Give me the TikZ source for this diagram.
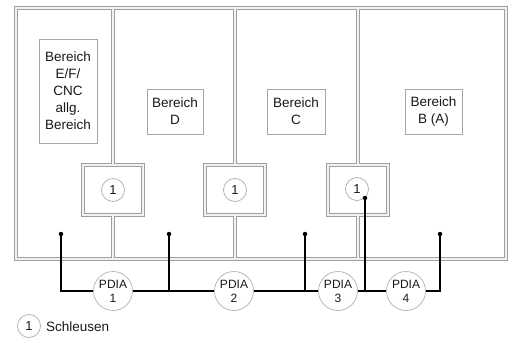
\documentclass[tikz,border=0pt]{standalone}
\usepackage{fontspec}
\setmainfont{Liberation Sans}
\begin{document}
\begin{tikzpicture}[x=1pt,y=-1pt,
  wallout/.style={draw=gray!75,line width=3.8pt},
  wallin/.style={draw=gray!10,line width=1.1pt},
  label/.style={draw=gray!70,line width=0.7pt,fill=white,align=center,inner sep=0pt,
    font=\fontsize{13.5}{17}\selectfont,text=black!90},
  lock/.style={circle,draw=gray!65,line width=0.7pt,fill=white,minimum size=23pt,inner sep=0pt,
    font=\fontsize{13}{15}\selectfont,text=black!90},
  pdia/.style={circle,draw=gray!60,line width=0.7pt,fill=white,minimum size=39pt,inner sep=0pt,
    align=center,font=\fontsize{12}{14}\selectfont,text=black!90},
  dot/.style={circle,fill=black,minimum size=4.5pt,inner sep=0pt},
  bus/.style={draw=black,line width=1.7pt}]
\useasboundingbox (0,0) rectangle (517,338);
% walls, two passes for merged double lines
\foreach \s in {wallout,wallin}{
  \draw[\s] (16,8) rectangle (506,259);
  \draw[\s] (113,8) -- (113,165) (113,215) -- (113,259);
  \draw[\s] (235,8) -- (235,165) (235,215) -- (235,259);
  \draw[\s] (358,8) -- (358,165) (358,215) -- (358,259);
  \draw[\s] (83,165) rectangle (143,215);
  \draw[\s] (205,165) rectangle (265,215);
  \draw[\s] (328,165) rectangle (388,215);
}
% area labels
\node[label,minimum width=58pt,minimum height=104pt] (ef) at (68,91) {Bereich\\E/F/\\CNC\\allg.\\Bereich};
\node[label,minimum width=56pt,minimum height=45pt] (bd) at (175,111.5) {Bereich\\D};
\node[label,minimum width=58pt,minimum height=45pt] (bc) at (296,111.5) {Bereich\\C};
\node[label,minimum width=57pt,minimum height=45pt] (bb) at (433.5,111.5) {Bereich\\B (A)};
% locks
\node[lock] (l1) at (113,190) {1};
\node[lock] (l2) at (235,190) {1};
\node[lock] (l3) at (357,189) {1};
% PDIA
\node[pdia] (p1) at (113,291) {PDIA\\1};
\node[pdia] (p2) at (234,291) {PDIA\\2};
\node[pdia] (p3) at (338,291) {PDIA\\3};
\node[pdia] (p4) at (406,291) {PDIA\\4};
% dots
\node[dot] (d1) at (61,234) {};
\node[dot] (d2) at (169,234) {};
\node[dot] (d3) at (305,234) {};
\node[dot] (d5) at (365,198) {};
\node[dot] (d4) at (440,234) {};
% bus
\draw[bus] (d1.center) |- (p1.west);
\draw[bus] (p1.east) -- (p2.west);
\draw[bus] (d2.center) -- (d2.center |- p1.center);
\draw[bus] (p2.east) -- (p3.west);
\draw[bus] (d3.center) -- (d3.center |- p1.center);
\draw[bus] (p3.east) -- (p4.west);
\draw[bus] (d5.center) -- (d5.center |- p1.center);
\draw[bus] (p4.east) -| (d4.center);
% legend
\node[lock] (lg) at (29,326) {1};
\node[anchor=west,inner sep=0pt,font=\fontsize{13.5}{16}\selectfont,text=black!90] (lgt) at (46,326.5) {Schleusen};
\end{tikzpicture}
\end{document}
